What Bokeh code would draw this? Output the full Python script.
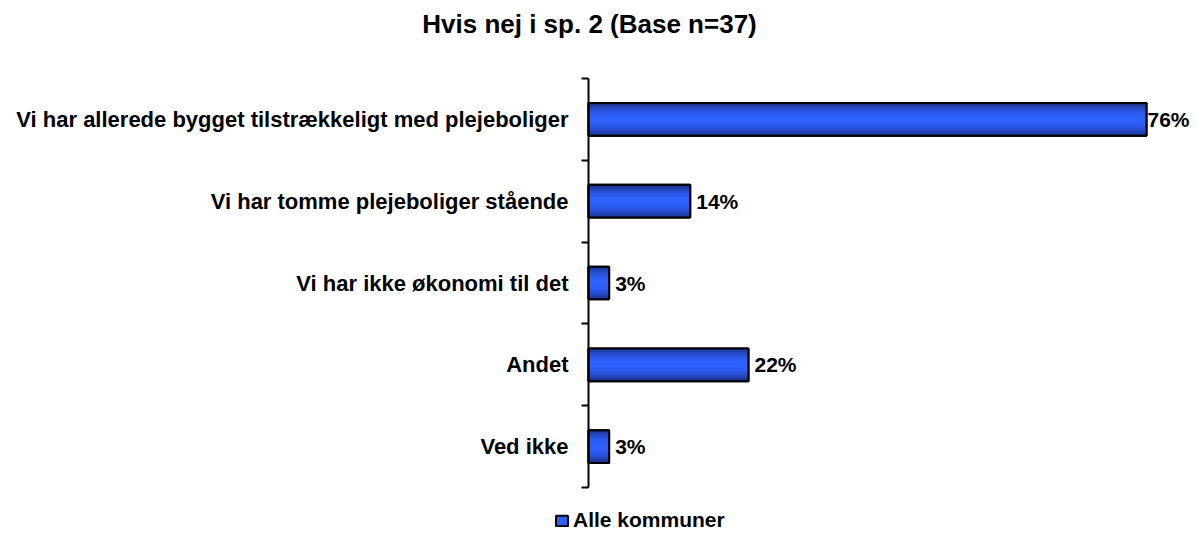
from bokeh.plotting import figure
from bokeh.models import (Range1d, FixedTicker, ColumnDataSource, LabelSet, Label,
                          Legend, LegendItem)
from bokeh.core.properties import value
from bokeh.embed import file_html
from bokeh.resources import INLINE
import math

title_text = "Hvis nej i sp. 2 (Base n=37)"
categories = [
    "Vi har allerede bygget tilstrækkeligt med plejeboliger",
    "Vi har tomme plejeboliger stående",
    "Vi har ikke økonomi til det",
    "Andet",
    "Ved ikke",
]
values = [75.7, 13.8, 2.8, 21.7, 2.8]
value_labels = ["76%", "14%", "3%", "22%", "3%"]
series_name = "Alle kommuner"

ypos = list(range(len(categories)))
bounds = [i - 0.5 for i in range(len(categories) + 1)]
FONT = "Arial"

# pixel layout helpers (frame spans whole canvas)
W, Hh = 1199, 534
RB = 6
px_per_x = (1146 - 588) / 75.7
px_per_y = (487 - 78) / 5.0
x0 = -588 / px_per_x
x1 = (W - RB - 588) / px_per_x
y_top = -0.5 - 78 / px_per_y
y_bot = 4.5 + (Hh - 487) / px_per_y

p = figure(width=W, height=Hh, output_backend="svg", toolbar_location=None,
           x_range=Range1d(x0, x1), y_range=Range1d(y_bot, y_top),
           y_axis_location="right",
           min_border_left=0, min_border_right=RB, min_border_top=0,
           min_border_bottom=0)
p.outline_line_color = None
p.xgrid.visible = False
p.ygrid.visible = False
p.xaxis.visible = False
p.background_fill_color = "white"
p.border_fill_color = "white"

yax = p.yaxis[0]
yax.fixed_location = 0
yax.bounds = (bounds[0], bounds[-1])
yax.ticker = FixedTicker(ticks=bounds, minor_ticks=[])
yax.major_label_overrides = {b: "" for b in bounds}
yax.major_label_standoff = 0
yax.major_tick_in = 7
yax.major_tick_out = 0
yax.minor_tick_in = 0
yax.minor_tick_out = 0
yax.axis_line_width = 2
yax.major_tick_line_width = 2
yax.axis_line_color = "black"
yax.major_tick_line_color = "black"

H = 0.4
vmax = max(values)
offsets = [1 if v == vmax else 6 for v in values]
src = ColumnDataSource(dict(y=ypos, v=values, lab=value_labels, cat=categories,
                            off=offsets))

base = p.hbar(y="y", right="v", left=0, height=H, source=src,
              fill_color="#2f5ef5", line_color="black", line_width=2)

N = 16
for k in range(N):
    t = (k + 0.5) / N
    w = math.sin(math.pi * t) ** 0.7
    dark = (22, 36, 105)
    bright = (48, 98, 255)
    c = tuple(int(dark[j] + (bright[j] - dark[j]) * w) for j in range(3))
    color = "#%02x%02x%02x" % c
    off = -H / 2 + H * (k + 0.5) / N
    p.hbar(y=[y + off for y in ypos], right=values, left=0, height=H / N * 1.05,
           fill_color=color, line_color=None)

p.hbar(y="y", right="v", left=0, height=H, source=src,
       fill_color=None, line_color="black", line_width=2)

cat_labels = LabelSet(x=0, y="y", text="cat", source=src, x_offset=-20,
                      text_align="right", text_baseline="middle",
                      text_font=value(FONT), text_font_style="bold",
                      text_font_size="22px", text_color="black")
p.add_layout(cat_labels)

val_labels = LabelSet(x="v", y="y", text="lab", source=src, x_offset="off",
                      text_align="left", text_baseline="middle",
                      text_font=value(FONT), text_font_style="bold",
                      text_font_size="21px", text_color="black")
p.add_layout(val_labels)

title = Label(x=(589 - 588) / px_per_x, y=-0.5 - (78 - 23) / px_per_y,
              text=title_text, text_align="center", text_baseline="middle",
              text_font=FONT, text_font_style="bold",
              text_font_size="26px", text_color="black")
p.add_layout(title)

legend = Legend(items=[LegendItem(label=series_name, renderers=[base])],
                location=(554, 2), orientation="horizontal",
                glyph_width=15, glyph_height=13, label_standoff=4,
                padding=0, margin=0, spacing=0,
                border_line_alpha=0, background_fill_alpha=0,
                label_text_font=FONT, label_text_font_style="bold",
                label_text_font_size="21px", label_height=20,
                label_text_color="black")
p.add_layout(legend, "center")

open("out.html", "w").write(file_html(p, INLINE))
